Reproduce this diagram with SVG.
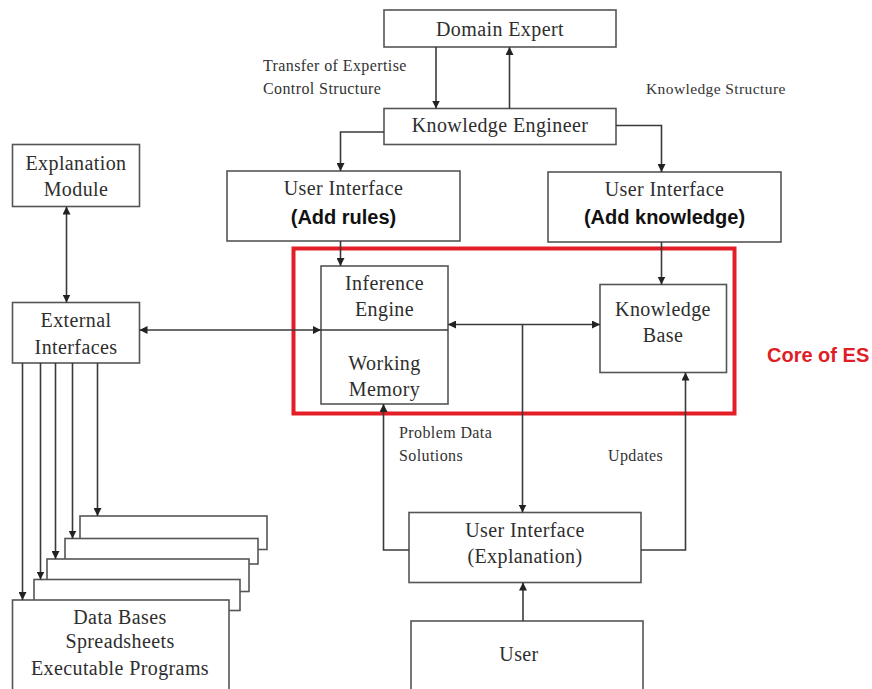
<svg xmlns="http://www.w3.org/2000/svg" width="872" height="689" viewBox="0 0 872 689">
  <style>
    .box { fill: #ffffff; stroke: #555555; stroke-width: 1.6; }
    .ln { fill: none; stroke: #3a3a3a; stroke-width: 1.6; }
    .t { font-family: "Liberation Serif", "Times New Roman", serif; font-size: 20px; fill: #2e2e2e; text-anchor: middle; letter-spacing: 0.4px; }
    .s { font-family: "Liberation Serif", "Times New Roman", serif; font-size: 16px; fill: #333333; letter-spacing: 0.4px; }
    .b { font-family: "Liberation Sans", Arial, sans-serif; font-size: 20px; font-weight: bold; fill: #111111; text-anchor: middle; }
    .core { font-family: "Liberation Sans", Arial, sans-serif; font-size: 20px; font-weight: bold; fill: #e01e27; }
  </style>
  <defs>
    <marker id="ah" viewBox="0 0 10 10" refX="10" refY="5" markerWidth="8" markerHeight="8" markerUnits="userSpaceOnUse" orient="auto-start-reverse">
      <path d="M0,0 L10,5 L0,10 Z" fill="#222222"/>
    </marker>
  </defs>

  <rect width="872" height="689" fill="#ffffff"/>

  <!-- core of the expert system -->
  <rect x="293.5" y="248.5" width="441" height="165" fill="none" stroke="#e31e26" stroke-width="4"/>
  <text class="core" x="767" y="362">Core of ES</text>

  <!-- edge labels -->
  <text class="s" x="263" y="71">Transfer of Expertise</text>
  <text class="s" x="263" y="94">Control Structure</text>
  <text class="s" x="646" y="94" style="font-size:15.5px">Knowledge Structure</text>
  <text class="s" x="399" y="438">Problem Data</text>
  <text class="s" x="399" y="461">Solutions</text>
  <text class="s" x="608" y="461">Updates</text>

  <g id="domain-expert">
    <rect class="box" x="384" y="10" width="232" height="37"/>
    <text class="t" x="500" y="36">Domain Expert</text>
  </g>

  <g id="knowledge-engineer">
    <rect class="box" x="384" y="108.5" width="232" height="36"/>
    <text class="t" x="500" y="132">Knowledge Engineer</text>
  </g>

  <g id="ui-add-rules">
    <rect class="box" x="227" y="171" width="233" height="70"/>
    <text class="t" x="343.5" y="195">User Interface</text>
    <text class="b" x="343.5" y="224">(Add rules)</text>
  </g>

  <g id="ui-add-knowledge">
    <rect class="box" x="548" y="172" width="233" height="70"/>
    <text class="t" x="664.5" y="196">User Interface</text>
    <text class="b" x="664.5" y="224">(Add knowledge)</text>
  </g>

  <g id="explanation-module">
    <rect class="box" x="12.5" y="144.5" width="127" height="62"/>
    <text class="t" x="76" y="170">Explanation</text>
    <text class="t" x="76" y="196">Module</text>
  </g>

  <g id="external-interfaces">
    <rect class="box" x="12.5" y="302.5" width="127" height="60.5"/>
    <text class="t" x="76" y="327">External</text>
    <text class="t" x="76" y="354">Interfaces</text>
  </g>

  <g id="inference-engine">
    <rect class="box" x="321" y="266" width="127" height="138"/>
    <line class="ln" x1="321" y1="330" x2="448" y2="330"/>
    <text class="t" x="384.5" y="290">Inference</text>
    <text class="t" x="384.5" y="316">Engine</text>
    <text class="t" x="384.5" y="370">Working</text>
    <text class="t" x="384.5" y="396">Memory</text>
  </g>

  <g id="knowledge-base">
    <rect class="box" x="600" y="284.5" width="126.5" height="88"/>
    <text class="t" x="663" y="316">Knowledge</text>
    <text class="t" x="663" y="342">Base</text>
  </g>

  <g id="ui-explanation">
    <rect class="box" x="409" y="512.5" width="232" height="70"/>
    <text class="t" x="525" y="537">User Interface</text>
    <text class="t" x="525" y="563">(Explanation)</text>
  </g>

  <g id="user">
    <rect class="box" x="411" y="621" width="232" height="80"/>
    <text class="t" x="519" y="661">User</text>
  </g>

  <!-- stacked external resources, drawn back to front -->
  <g id="data-stores">
    <rect class="box" x="80" y="516" width="187" height="33.5"/>
    <rect class="box" x="65" y="538.5" width="193" height="25.5"/>
    <rect class="box" x="47" y="559" width="202" height="32.5"/>
    <rect class="box" x="34" y="579.5" width="206" height="31"/>
    <rect class="box" x="12.5" y="600" width="216.5" height="100"/>
    <text class="t" x="120" y="624">Data Bases</text>
    <text class="t" x="120" y="648">Spreadsheets</text>
    <text class="t" x="120" y="675">Executable Programs</text>
  </g>

  <g id="connectors">
    <!-- domain expert / knowledge engineer -->
    <line class="ln" x1="436" y1="47" x2="436" y2="108.5" marker-end="url(#ah)"/>
    <line class="ln" x1="509.5" y1="108.5" x2="509.5" y2="47" marker-end="url(#ah)"/>
    <!-- knowledge engineer to the two editing interfaces -->
    <polyline class="ln" points="384,132 340.5,132 340.5,171" marker-end="url(#ah)"/>
    <polyline class="ln" points="616,125.5 661.5,125.5 661.5,172" marker-end="url(#ah)"/>
    <!-- interfaces into the core -->
    <line class="ln" x1="340.5" y1="241" x2="340.5" y2="266" marker-end="url(#ah)"/>
    <line class="ln" x1="661.5" y1="242" x2="661.5" y2="284.5" marker-end="url(#ah)"/>
    <!-- inference engine <-> knowledge base -->
    <line class="ln" x1="448" y1="324.5" x2="600" y2="324.5" marker-start="url(#ah)" marker-end="url(#ah)"/>
    <line class="ln" x1="522.5" y1="324.5" x2="522.5" y2="512.5" marker-end="url(#ah)"/>
    <!-- external interfaces <-> inference engine -->
    <line class="ln" x1="139.5" y1="330" x2="321" y2="330" marker-start="url(#ah)" marker-end="url(#ah)"/>
    <!-- explanation module <-> external interfaces -->
    <line class="ln" x1="66.5" y1="206.5" x2="66.5" y2="302.5" marker-start="url(#ah)" marker-end="url(#ah)"/>
    <!-- external interfaces to data stores -->
    <line class="ln" x1="22.5" y1="363" x2="22.5" y2="600" marker-end="url(#ah)"/>
    <line class="ln" x1="40.5" y1="363" x2="40.5" y2="579.5" marker-end="url(#ah)"/>
    <line class="ln" x1="55.5" y1="363" x2="55.5" y2="559" marker-end="url(#ah)"/>
    <line class="ln" x1="72.5" y1="363" x2="72.5" y2="538.5" marker-end="url(#ah)"/>
    <line class="ln" x1="97.5" y1="363" x2="97.5" y2="516" marker-end="url(#ah)"/>
    <!-- explanation interface loops -->
    <polyline class="ln" points="409,550 383.5,550 383.5,404" marker-end="url(#ah)"/>
    <polyline class="ln" points="641,550 685.5,550 685.5,372.5" marker-end="url(#ah)"/>
    <!-- user to explanation interface -->
    <line class="ln" x1="523" y1="621" x2="523" y2="582.5" marker-end="url(#ah)"/>
  </g>
</svg>
